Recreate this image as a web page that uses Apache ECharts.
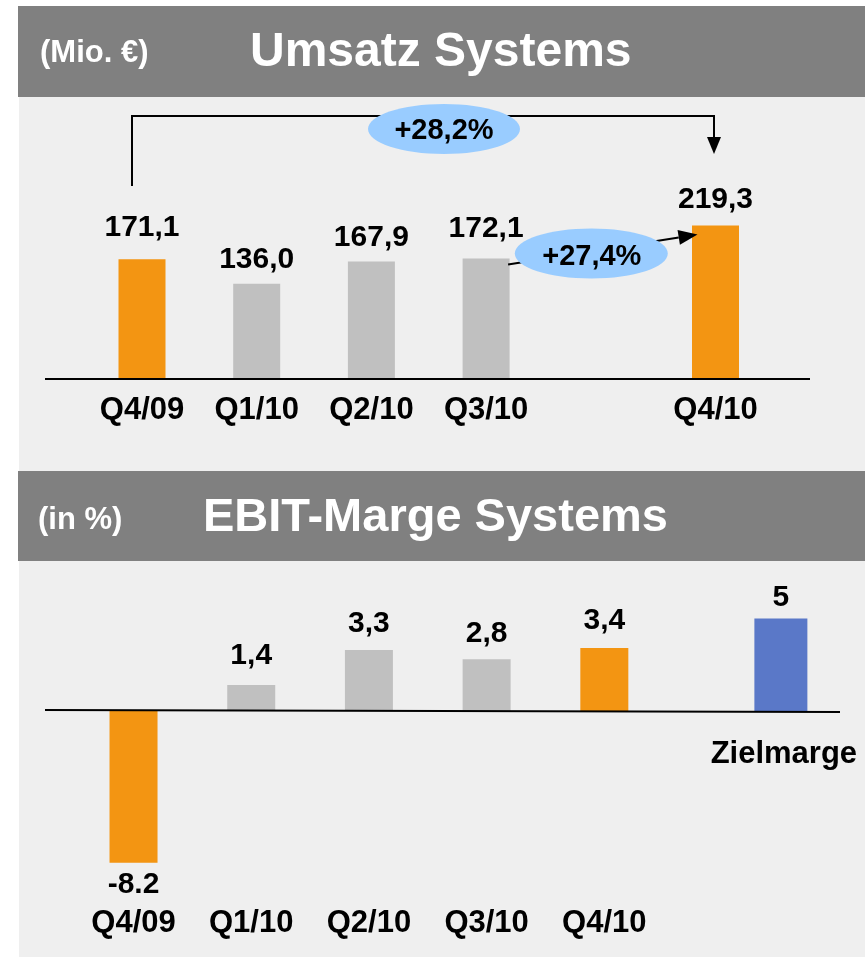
<!DOCTYPE html>
<html><head><meta charset="utf-8">
<script src="https://cdn.jsdelivr.net/npm/echarts@6/dist/echarts.min.js"></script>
<style>html,body{margin:0;padding:0;background:#fff}#c{width:865px;height:957px}</style>
</head><body><div id="c"></div>
<script>
// ---- data ----
const salesCategories = ['Q4/09', 'Q1/10', 'Q2/10', 'Q3/10', 'Q4/10'];
const salesValues = [171.1, 136.0, 167.9, 172.1, 219.3];
const salesLabels = ['171,1', '136,0', '167,9', '172,1', '219,3'];
const marginCategories = ['Q4/09', 'Q1/10', 'Q2/10', 'Q3/10', 'Q4/10'];
const marginValues = [-8.2, 1.4, 3.3, 2.8, 3.4];
const marginLabels = ['-8.2', '1,4', '3,3', '2,8', '3,4'];
const targetCategory = 'Zielmarge';
const targetValue = 5;
const targetLabel = '5';
const growthTotal = '+28,2%';
const growthQoQ = '+27,4%';
const titleSales = 'Umsatz Systems';
const unitSales = '(Mio. €)';
const titleMargin = 'EBIT-Marge Systems';
const unitMargin = '(in %)';

// ---- styles ----
const FONT = '"Liberation Sans", Arial, Helvetica, sans-serif';
const ORANGE = '#f39512', GRAY = '#c0c0c0', BLUE = '#5a78c8';
const HEADER = '#808080', PANEL = '#efefef', ELLIPSE = '#99ccff';
const salesLabelDist = [16, 9, 9, 15, 11];
const marginLabelDist = [7, 14, 11, 10, 12];

// ---- build axes (one empty slot before the last quarter on top; half slots below) ----
const topAxis = [];
salesCategories.forEach((c, i) => { if (i === salesCategories.length - 1) topAxis.push(' '); topAxis.push(c); });
const topSlot = salesCategories.map(c => topAxis.indexOf(c));
const topData = topAxis.map(() => '-');
salesValues.forEach((v, i) => {
  topData[topSlot[i]] = { value: v, label: { distance: salesLabelDist[i] } };
});

const botAxis = [];
let blank = 1;
marginCategories.forEach((c, i) => { botAxis.push(c); if (i < marginCategories.length - 1) botAxis.push(' '.repeat(blank++)); });
botAxis.push(' '.repeat(blank++), ' '.repeat(blank++), targetCategory);
const botSlot = marginCategories.map(c => botAxis.indexOf(c));
const targetSlot = botAxis.indexOf(targetCategory);
const botData = botAxis.map(() => '-');
marginValues.forEach((v, i) => {
  botData[botSlot[i]] = { value: v, label: { distance: marginLabelDist[i], position: v < 0 ? 'bottom' : 'top' } };
});
const targetData = botAxis.map(() => '-');
targetData[targetSlot] = targetValue;
const targetTextData = botAxis.map(() => '-');
targetTextData[targetSlot] = 0;

const labelStyle = { fontFamily: FONT, fontWeight: 'bold', fontSize: 30, color: '#000' };
const catLabel = { fontFamily: FONT, fontWeight: 'bold', fontSize: 31, color: '#000', interval: 0 };

const chart = echarts.init(document.getElementById('c'), null, { renderer: 'canvas' });

const bgElements = [
  { type: 'rect', id: 'h1', z: -10, shape: { x: 18, y: 6, width: 847, height: 91 }, style: { fill: HEADER } },
  { type: 'rect', id: 'p1', z: -10, shape: { x: 19, y: 97, width: 846, height: 374 }, style: { fill: PANEL } },
  { type: 'rect', id: 'h2', z: -10, shape: { x: 18, y: 471, width: 847, height: 90 }, style: { fill: HEADER } },
  { type: 'rect', id: 'p2', z: -10, shape: { x: 19, y: 561, width: 846, height: 396 }, style: { fill: PANEL } },
  { type: 'text', id: 't1a', z: 5, style: { text: unitSales, x: 40, y: 53, font: 'bold 31px ' + FONT, fill: '#fff', verticalAlign: 'middle' } },
  { type: 'text', id: 't1b', z: 5, style: { text: titleSales, x: 250, y: 53, font: 'bold 48px ' + FONT, fill: '#fff', verticalAlign: 'middle' } },
  { type: 'text', id: 't2a', z: 5, style: { text: unitMargin, x: 38, y: 520, font: 'bold 31px ' + FONT, fill: '#fff', verticalAlign: 'middle' } },
  { type: 'text', id: 't2b', z: 5, style: { text: titleMargin, x: 203, y: 518, font: 'bold 47px ' + FONT, fill: '#fff', verticalAlign: 'middle' } }
];

const option = {
  animation: false,
  backgroundColor: '#ffffff',
  graphic: { elements: bgElements },
  grid: [
    { left: 84.65, top: 204, width: 688.2, height: 175, outerBoundsMode: 'none', containLabel: false },
    { left: 104.1, top: 600, width: 706.2, height: 296, outerBoundsMode: 'none', containLabel: false }
  ],
  xAxis: [
    { type: 'category', gridIndex: 0, data: topAxis, axisLine: { show: false, onZero: false }, axisTick: { show: false },
      axisLabel: Object.assign({ margin: 16 }, catLabel), splitLine: { show: false } },
    { type: 'category', gridIndex: 1, data: botAxis, axisLine: { show: false, onZero: false }, axisTick: { show: false },
      axisLabel: Object.assign({ margin: 12, formatter: v => (v === targetCategory ? '' : v) }, catLabel), splitLine: { show: false } },
    { type: 'category', gridIndex: 1, data: botAxis, show: false }
  ],
  yAxis: [
    { type: 'value', gridIndex: 0, min: 0, max: 250, show: false, splitLine: { show: false } },
    { type: 'value', gridIndex: 1, min: -10, max: 6, show: false, splitLine: { show: false } }
  ],
  series: [
    { type: 'bar', xAxisIndex: 0, yAxisIndex: 0, barWidth: 47, data: topData,
      itemStyle: { color: p => (p.name === salesCategories[0] || p.name === salesCategories[salesCategories.length - 1]) ? ORANGE : GRAY },
      label: Object.assign({ show: true, position: 'top', formatter: p => salesLabels[salesCategories.indexOf(p.name)] }, labelStyle) },
    { type: 'bar', xAxisIndex: 1, yAxisIndex: 1, barWidth: 48, data: botData,
      itemStyle: { color: p => (p.name === marginCategories[0] || p.name === marginCategories[marginCategories.length - 1]) ? ORANGE : GRAY },
      label: Object.assign({ show: true, position: 'top', formatter: p => marginLabels[marginCategories.indexOf(p.name)] }, labelStyle) },
    { type: 'bar', xAxisIndex: 2, yAxisIndex: 1, barWidth: 53, data: targetData,
      itemStyle: { color: BLUE },
      label: Object.assign({ show: true, position: 'top', distance: 6, formatter: () => targetLabel }, labelStyle) },
    { type: 'scatter', xAxisIndex: 2, yAxisIndex: 1, symbolSize: 1, data: targetTextData,
      itemStyle: { color: 'rgba(0,0,0,0)', opacity: 1 },
      label: Object.assign({}, labelStyle, { show: true, position: 'bottom', distance: 27, fontSize: 31, opacity: 1, color: '#000000', offset: [3, 0], formatter: () => targetCategory }) }
  ]
};
chart.setOption(option);

// ---- annotations positioned from the chart's own scales ----
const px = (g, slot, v) => chart.convertToPixel({ gridIndex: g }, [slot, v]);
const zeroTop = px(0, 0, 0)[1];
const zeroBot = px(1, 0, 0)[1];
const q0 = px(0, topSlot[0], salesValues[0]);
const q3 = px(0, topSlot[3], salesValues[3]);
const q4 = px(0, topSlot[4], salesValues[4]);

const x0 = q0[0] - 10, x1 = q4[0] - 1.5;
const yBr = 116, yStart = 186, tip1 = 154;
const lineStyle = { stroke: '#000', lineWidth: 2, fill: null };

const s2 = [q3[0] + 22, q3[1] + 6];
const e2 = [q4[0] - 18, q4[1] + 9];
const dx = e2[0] - s2[0], dy = e2[1] - s2[1], len = Math.hypot(dx, dy);
const ux = dx / len, uy = dy / len;
const head = 19, hw = 7.5;
const base2 = [e2[0] - ux * head, e2[1] - uy * head];
const mid2 = [(s2[0] + e2[0]) / 2, (s2[1] + e2[1]) / 2];

const ann = [
  { type: 'line', id: 'axTop', z: 3, shape: { x1: 45, y1: zeroTop, x2: 810, y2: zeroTop }, style: { stroke: '#000', lineWidth: 2 } },
  { type: 'line', id: 'axBot', z: 3, shape: { x1: 45, y1: zeroBot - 1, x2: 840, y2: zeroBot + 1 }, style: { stroke: '#000', lineWidth: 2 } },
  { type: 'polyline', id: 'br', z: 20, shape: { points: [[x0, yStart], [x0, yBr], [x1, yBr], [x1, tip1 - 15]] }, style: lineStyle },
  { type: 'polygon', id: 'br_h', z: 20, shape: { points: [[x1 - 7, tip1 - 17], [x1 + 7, tip1 - 17], [x1, tip1]] }, style: { fill: '#000' } },
  { type: 'ellipse', id: 'el1', z: 21, shape: { cx: (x0 + x1) / 2 + 21, cy: 129, rx: 76, ry: 25 }, style: { fill: ELLIPSE } },
  { type: 'text', id: 'el1t', z: 22, style: { text: growthTotal, x: (x0 + x1) / 2 + 21, y: 131, font: 'bold 29px ' + FONT, fill: '#000', align: 'center', verticalAlign: 'middle' } },
  { type: 'line', id: 'ar2', z: 20, shape: { x1: s2[0], y1: s2[1], x2: base2[0], y2: base2[1] }, style: { stroke: '#000', lineWidth: 2 } },
  { type: 'polygon', id: 'ar2h', z: 20, shape: { points: [[e2[0], e2[1]], [base2[0] - uy * hw, base2[1] + ux * hw], [base2[0] + uy * hw, base2[1] - ux * hw]] }, style: { fill: '#000' } },
  { type: 'ellipse', id: 'el2', z: 21, shape: { cx: mid2[0] - 11.5, cy: mid2[1] + 4, rx: 76.5, ry: 25 }, style: { fill: ELLIPSE } },
  { type: 'text', id: 'el2t', z: 22, style: { text: growthQoQ, x: mid2[0] - 11, y: mid2[1] + 7, font: 'bold 29px ' + FONT, fill: '#000', align: 'center', verticalAlign: 'middle' } }
];
chart.setOption({ graphic: { elements: bgElements.concat(ann) } });
</script>
</body></html>
